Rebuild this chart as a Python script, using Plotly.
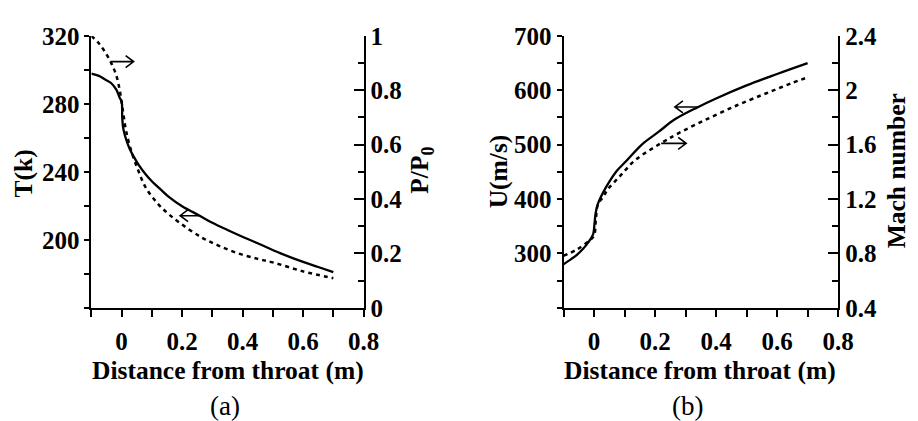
import plotly.graph_objects as go

# ---------------- data ----------------
# Panel (a)
x_T = [-0.1, -0.075, -0.056, -0.035, -0.018, -0.006, 0.0, 0.002, 0.005, 0.01, 0.018,
       0.026, 0.04, 0.058, 0.08, 0.1, 0.13, 0.156, 0.2, 0.258, 0.3, 0.35, 0.405,
       0.45, 0.524, 0.6, 0.65, 0.7]
T_vals = [297.8, 296.5, 294.5, 292.3, 288.5, 283.5, 281.5, 272.0, 266.0, 262.0, 257.5,
          253.8, 249.0, 243.7, 238.5, 234.5, 229.5, 225.3, 219.8, 214.2, 210.0, 205.8, 201.4,
          198.0, 192.2, 187.0, 184.0, 181.0]

x_P = [-0.1, -0.077, -0.056, -0.035, -0.018, -0.007, 0.0, 0.007, 0.015, 0.031, 0.053,
       0.08, 0.118, 0.15, 0.188, 0.264, 0.32, 0.383, 0.45, 0.5, 0.6, 0.7]
P_vals = [1.0, 0.975, 0.943, 0.902, 0.856, 0.805, 0.755, 0.704, 0.649, 0.58, 0.511,
          0.442, 0.385, 0.35, 0.316, 0.259, 0.229, 0.201, 0.18, 0.167, 0.134, 0.109]

# Panel (b)
x_U = [-0.1, -0.075, -0.057, -0.035, -0.0195, -0.0034, 0.002, 0.0053, 0.0127, 0.0288,
       0.0504, 0.075, 0.104, 0.1576, 0.2113, 0.265, 0.34, 0.4, 0.5, 0.6, 0.7]
U_vals = [280.2, 289.5, 297.0, 309.0, 320.0, 334.5, 357.0, 374.0, 391.0, 411.0,
          432.0, 452.0, 469.0, 500.7, 523.5, 546.6, 569.0, 585.0, 609.0, 630.0, 650.0]

x_M = [-0.1, -0.057, -0.014, 0.0, 0.006, 0.0127, 0.029, 0.045, 0.0825, 0.136, 0.222,
       0.276, 0.372, 0.469, 0.55, 0.6, 0.65, 0.7]
M_vals = [0.783, 0.828, 0.897, 0.93, 1.05, 1.16, 1.213, 1.271, 1.362, 1.488, 1.614,
          1.683, 1.79, 1.89, 1.965, 2.01, 2.055, 2.095]

# tick labels
x_ticks = [0, 0.2, 0.4, 0.6, 0.8]
x_ticktext = ["0", "0.2", "0.4", "0.6", "0.8"]
T_ticks = [200, 240, 280, 320]
P_ticks = [0, 0.2, 0.4, 0.6, 0.8, 1]
P_ticktext = ["0", "0.2", "0.4", "0.6", "0.8", "1"]
U_ticks = [300, 400, 500, 600, 700]
M_ticks = [0.4, 0.8, 1.2, 1.6, 2.0, 2.4]
M_ticktext = ["0.4", "0.8", "1.2", "1.6", "2", "2.4"]

# direction arrows: (tip x, tip y on left axis, direction, length px)
arrows_a = [(0.0397, 304.9, 1, 23), (0.1934, 214.2, -1, 20)]
arrows_b = [(0.265, 569.4, -1, 23), (0.302, 502.4, 1, 25)]

# ---------------- figure ----------------
FONT = "Liberation Serif"
W, H = 918, 421
yb, yt = 1 - 315 / H, 1 - 24.5 / H
dom_a = [93 / W, 370 / W]
dom_b = [573.5 / W, 853 / W]

fig = go.Figure()
solid = dict(color="black", width=2.3)
dashed = dict(color="black", width=2.5, dash="4px,4px")

fig.add_trace(go.Scatter(x=x_T, y=T_vals, mode="lines", line=solid, xaxis="x", yaxis="y",
                         line_shape="spline", showlegend=False))
fig.add_trace(go.Scatter(x=x_P, y=P_vals, mode="lines", line=dashed, xaxis="x", yaxis="y2",
                         line_shape="spline", showlegend=False))
fig.add_trace(go.Scatter(x=x_U, y=U_vals, mode="lines", line=solid, xaxis="x2", yaxis="y3",
                         line_shape="spline", showlegend=False))
fig.add_trace(go.Scatter(x=x_M, y=M_vals, mode="lines", line=dashed, xaxis="x2", yaxis="y4",
                         line_shape="spline", showlegend=False))

tickfont = dict(family=FONT, size=25, color="black", weight="bold")
common_x = dict(range=[-0.1, 0.8], showline=True, linecolor="black", linewidth=2,
                ticks="outside", ticklen=7, tickwidth=2, tickcolor="black",
                tickvals=x_ticks, ticktext=x_ticktext, tickfont=tickfont,
                minor=dict(dtick=0.1, tick0=0, ticks="outside", ticklen=7, tickwidth=2,
                           tickcolor="black", showgrid=False),
                showgrid=False, zeroline=False, fixedrange=True, ticklabelstandoff=3)
left_y = dict(showline=True, linecolor="black", linewidth=2, ticks="outside", ticklen=5,
              tickwidth=2, tickcolor="black", tickfont=tickfont, showgrid=False,
              zeroline=False, ticklabelstandoff=0)
right_y = dict(showline=True, linecolor="black", linewidth=2, ticks="inside", ticklen=10,
               tickwidth=2, tickcolor="black", tickfont=tickfont, showgrid=False,
               zeroline=False, side="right", ticklabelstandoff=0)

fig.update_layout(
    width=W, height=H, margin=dict(l=0, r=0, t=0, b=0),
    paper_bgcolor="white", plot_bgcolor="white",
    xaxis=dict(domain=dom_a, anchor="y", **common_x),
    xaxis2=dict(domain=dom_b, anchor="y3", **common_x),
    yaxis=dict(domain=[yb, yt], anchor="x", range=[160, 320], tickvals=T_ticks,
               minor=dict(dtick=20, tick0=0, ticks="outside", ticklen=5, tickwidth=2,
                          tickcolor="black", showgrid=False), **left_y),
    yaxis2=dict(domain=[yb, yt], anchor="x", overlaying="y", range=[0, 1],
                tickvals=P_ticks, ticktext=P_ticktext,
                minor=dict(dtick=0.1, tick0=0, ticks="inside", ticklen=6, tickwidth=2,
                           tickcolor="black", showgrid=False), **right_y),
    yaxis3=dict(domain=[yb, yt], anchor="x2", range=[200, 700], tickvals=U_ticks,
                minor=dict(dtick=50, tick0=0, ticks="outside", ticklen=5, tickwidth=2,
                           tickcolor="black", showgrid=False), **left_y),
    yaxis4=dict(domain=[yb, yt], anchor="x2", overlaying="y3", range=[0.4, 2.4],
                tickvals=M_ticks, ticktext=M_ticktext,
                minor=dict(dtick=0.2, tick0=0, ticks="inside", ticklen=6, tickwidth=2,
                           tickcolor="black", showgrid=False), **right_y),
)

# arrows as pixel-sized paths anchored at the tip
def add_arrows(arrows, xref, yref):
    for xt, yt_, d, L in arrows:
        path = f"M {-d*L},0 L 0,0 M {-d*8},6 L 0,0 L {-d*8},-6"
        fig.add_shape(type="path", xref=xref, yref=yref, xsizemode="pixel",
                      ysizemode="pixel", xanchor=xt, yanchor=yt_, path=path,
                      line=dict(color="black", width=1.6))

add_arrows(arrows_a, "x", "y")
add_arrows(arrows_b, "x2", "y3")

title_font = dict(family=FONT, size=25.5, color="black", weight="bold")
def px_ann(text, x, y, angle=0, font=title_font):
    fig.add_annotation(text=text, x=x / W, y=1 - y / H, xref="paper", yref="paper",
                       showarrow=False, textangle=angle, font=font,
                       xanchor="center", yanchor="middle")

px_ann("Distance from throat (m)", 232, 382)
px_ann("Distance from throat (m)", 712, 382)
px_ann("T(k)", 24, 172, -90)
px_ann("P/P<sub>0</sub>", 429, 168, -90)
px_ann("U(m/s)", 507, 169, -90)
px_ann("Mach number", 912, 169, -90)
cap_font = dict(family=FONT, size=27, color="black")
px_ann("(a)", 229, 420, 0, cap_font)
px_ann("(b)", 700, 420, 0, cap_font)

fig.write_html("out.html")
